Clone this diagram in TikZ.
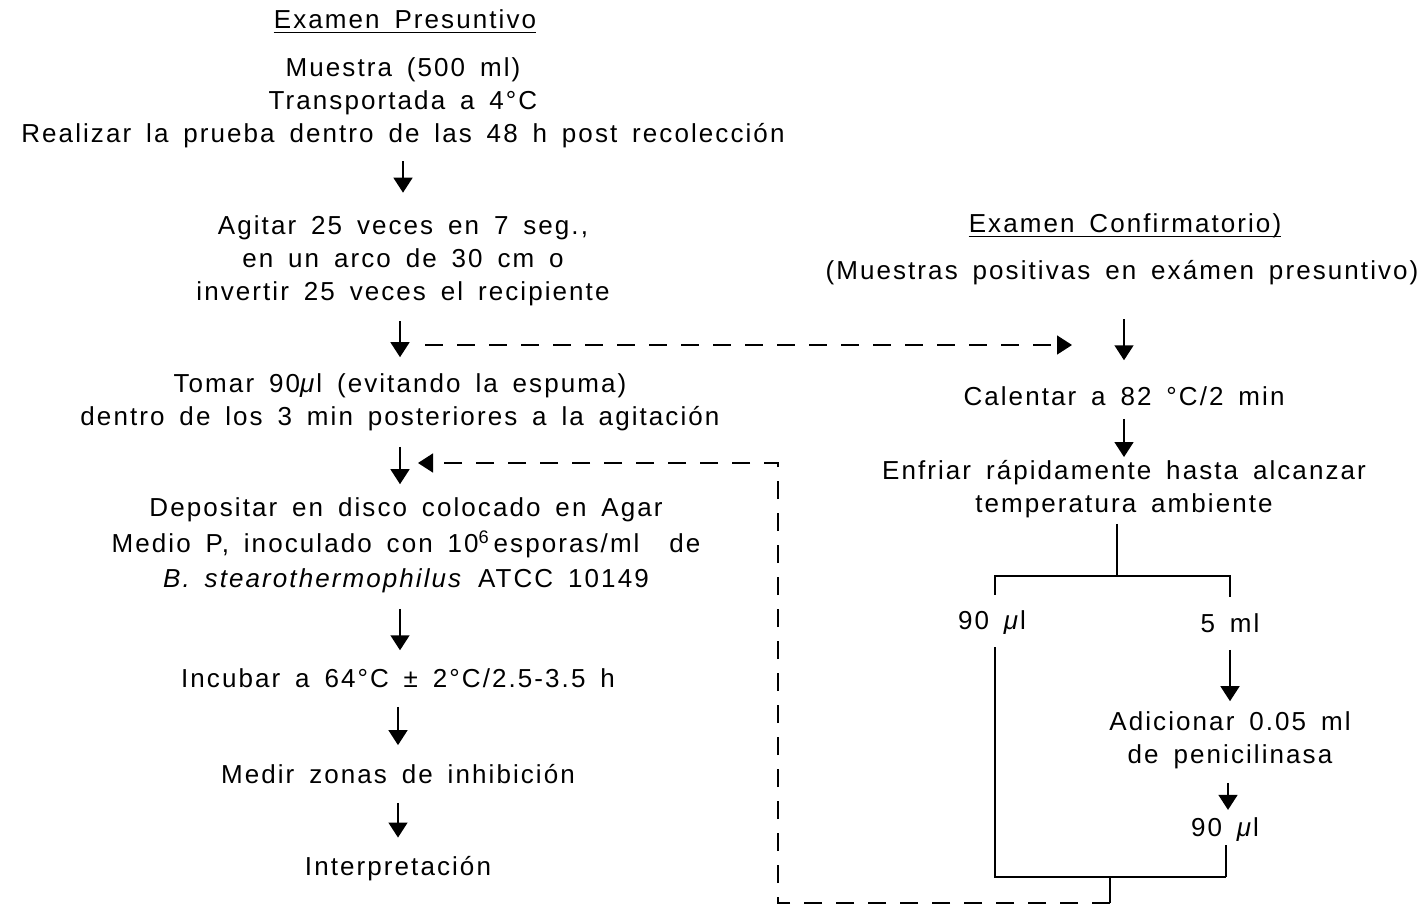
\documentclass[tikz,border=0pt]{standalone}
\usepackage{fontspec}
\setmainfont{Liberation Sans}[LetterSpace=8, WordSpace=1.6]
\usetikzlibrary{arrows.meta}
\begin{document}
\begin{tikzpicture}[x=1pt,y=-1pt,
  txt/.style={font=\fontsize{26}{33}\selectfont, align=center, inner sep=0pt},
  tip/.style={-{Triangle[length=15pt,width=19pt]}},
  flow/.style={line width=1.5pt, tip},
  link/.style={line width=1.6pt},
  dashlink/.style={line width=1.5pt, dash pattern=on 18pt off 14pt},
  dasharr/.style={dashlink, tip},
]
\useasboundingbox (0,0) rectangle (1423,908);

% ---- Presumptive test (left column)
\node[txt] (t1) at (405,19) {Examen Presuntivo};
\draw[line width=1.2pt] ([yshift=-4pt]t1.base west) -- ([yshift=-4pt]t1.base east);

\node[txt] (a) at (403,103) {Muestra (500 ml)\\Transportada a 4°C\\Realizar la prueba dentro de las 48 h post recolección};
\node[txt] (b) at (403,261) {Agitar 25 veces en 7 seg.,\\en un arco de 30 cm o\\invertir 25 veces el recipiente};
\node[txt] (c) at (400,402) {Tomar 90\textit{μ}l (evitando la espuma)\\dentro de los 3 min posteriores a la agitación};
\node[txt] (d) at (406,545) {Depositar en disco colocado en Agar\\[3pt]Medio P, inoculado con 10\textsuperscript{6}\,esporas/ml\ \ de\\[2pt]\textit{B. stearothermophilus} ATCC 10149};
\node[txt] (e) at (398,678) {Incubar a 64°C ± 2°C/2.5-3.5 h};
\node[txt] (f) at (398,774) {Medir zonas de inhibición};
\node[txt] (g) at (398,869) {Interpretación};

\draw[flow, shorten <=13pt, shorten >=23pt] (a.south -| b.north) -- (b.north);
\draw[flow, shorten <=15pt, shorten >=16pt] ([xshift=-3pt]b.south) -- ([xshift=-3pt]b.south |- c.north);
\draw[flow, shorten <=16pt, shorten >=13pt] (c.south) -- (c.south |- d.north);
\draw[flow, shorten <=16pt, shorten >=18pt] ([xshift=-6pt]d.south) -- ([xshift=-6pt]d.south |- e.north);
\draw[flow, shorten <=19pt, shorten >=19pt] (e.south) -- (f.north);
\draw[flow, shorten <=19pt, shorten >=19pt] (f.south) -- (g.north);

% ---- Confirmatory test (right column)
\node[txt] (t2) at (1125,226) {Examen Confirmatorio)};
\draw[line width=1.2pt] ([yshift=-4pt]t2.base west) -- ([yshift=-4pt]t2.base east);

\node[txt] (h) at (1122,273) {(Muestras positivas en exámen presuntivo)};
\node[txt] (i) at (1124,396) {Calentar a 82 °C/2 min};
\node[txt] (j) at (1124,489) {Enfriar rápidamente hasta alcanzar\\temperatura ambiente};
\node[txt] (k) at (992,623) {90 \textit{μ}l};
\node[txt] (l) at (1230,623) {5 ml};
\node[txt] (m) at (1230,740) {Adicionar 0.05 ml\\de penicilinasa};
\node[txt] (n) at (1225,830) {90 \textit{μ}l};

\draw[flow, shorten <=34pt, shorten >=26pt] ([xshift=2pt]h.south) -- ([xshift=2pt]h.south |- i.north);
\draw[flow, shorten <=13pt, shorten >=3pt] (i.south) -- (j.north);

% split into the two portions
\coordinate (fork) at (1117,576);
\draw[link, shorten <=6pt] ([xshift=-7pt]j.south) -- (fork);
\draw[link, shorten <=16pt, shorten >=16pt] ([xshift=3pt]k.north) -- ([xshift=3pt]k.north |- fork) -- (l.north |- fork) -- (l.north);

\draw[flow, shorten <=17pt, shorten >=10pt] (l.south) -- (m.north);
\draw[flow, shorten <=14pt, shorten >=8pt] ([xshift=-2pt]m.south) -- ([xshift=-2pt]m.south |- n.north);

% both portions are brought together again
\coordinate (join) at (1110,877);
\coordinate (ret) at (1110,903);
\draw[link, shorten <=12pt] ([xshift=3pt]k.south) -- ([xshift=3pt]k.south |- join) -- ([xshift=1pt]n.south |- join);
\draw[link, shorten >=3pt] ([xshift=1pt]n.south |- join) -- ([xshift=1pt]n.south);
\draw[link] (join) -- (ret);

% dashed links between the two tests
\coordinate (out) at (425,345);
\coordinate (into) at (1072,345);
\draw[dasharr] (out) -- (into);

\coordinate (corner1) at (778,903);
\coordinate (corner2) at (778,463);
\coordinate (back) at (418,463);
\draw[dasharr] (ret) -- (corner1) -- (corner2) -- (back);
\end{tikzpicture}
\end{document}
